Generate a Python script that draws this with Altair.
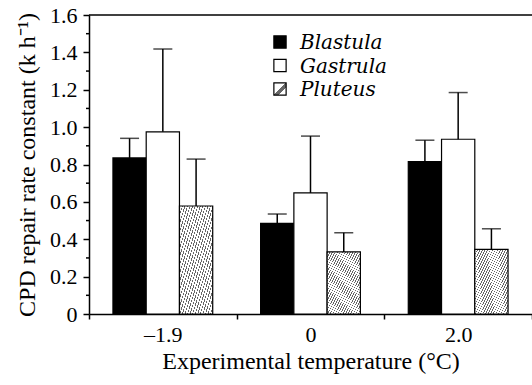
import altair as alt
import pandas as pd

temps = ["-1.9", "0", "2.0"]
temp_labels = ["\u20131.9", "0", "2.0"]
stages = ["Blastula", "Gastrula", "Pluteus"]
blastula = [0.835, 0.485, 0.815]
blastula_up = [0.94, 0.535, 0.93]
gastrula = [0.975, 0.648, 0.935]
gastrula_up = [1.418, 0.952, 1.185]
pluteus = [0.578, 0.332, 0.346]
pluteus_up = [0.829, 0.435, 0.456]
minor_ticks = [0.1, 0.3, 0.5, 0.7, 0.9, 1.1, 1.3, 1.5]

rows = []
for i, t in enumerate(temps):
    for s, v, u in zip(stages, [blastula, gastrula, pluteus], [blastula_up, gastrula_up, pluteus_up]):
        rows.append({"temp": temp_labels[i], "stage": s, "value": v[i], "upper": u[i]})
df = pd.DataFrame(rows)
leg_df = pd.DataFrame({"stage": stages, "row": list(range(len(stages)))})

# hatch fill as a striped linear gradient
N = 26
stops = []
for k in range(N):
    a = k / N
    b = (k + 0.3) / N
    c = (k + 1) / N
    stops += [f"{{offset:{a:.5f},color:'#666666'}}", f"{{offset:{b:.5f},color:'#666666'}}",
              f"{{offset:{b:.5f},color:'#ffffff'}}", f"{{offset:{c:.5f},color:'#ffffff'}}"]
hatch_expr = "{gradient:'linear',x1:0,y1:0,x2:1,y2:1,stops:[" + ",".join(stops) + "]}"

FONT = "Liberation Serif"
LEG_FONT = "DejaVu Serif"

fill_scale = alt.Scale(domain=stages, range=["black", "white", alt.ExprRef(hatch_expr)])

x = alt.X("temp:N", sort=temp_labels, title="Experimental temperature (\u00b0C)",
          scale=alt.Scale(paddingInner=0, paddingOuter=0),
          axis=alt.Axis(labelAngle=0, tickBand="extent", tickSize=5, labelPadding=5,
                        titlePadding=4, domainWidth=1.5, tickWidth=1.5))
xo = alt.XOffset("stage:N", sort=stages, scale=alt.Scale(paddingInner=0, paddingOuter=0.72))
yscale = alt.Scale(domain=[0, 1.6], nice=False)

bars = alt.Chart(df).mark_bar(stroke="black", strokeWidth=1.2).encode(
    x=x, xOffset=xo,
    y=alt.Y("value:Q", scale=yscale, title="CPD repair rate constant (k h\u207b\u00b9)",
            axis=alt.Axis(values=[0, 0.2, 0.4, 0.6, 0.8, 1.0, 1.2, 1.4, 1.6], tickSize=6,
                          labelExpr="datum.value == 0 ? '0' : format(datum.value, '.1f')",
                          labelPadding=6, titlePadding=10, domainWidth=1.5, tickWidth=1.5,
                          grid=False, labelOverlap=False)),
    fill=alt.Fill("stage:N", sort=stages, scale=fill_scale, legend=None),
)

err = alt.Chart(df).mark_rule(color="black", strokeWidth=1.5).encode(
    x=x, xOffset=xo, y=alt.Y("value:Q", scale=yscale, axis=None), y2="upper:Q")
cap = alt.Chart(df).mark_tick(color="black", orient="horizontal", size=19, thickness=1.5).encode(
    x=x, xOffset=xo, y=alt.Y("upper:Q", scale=yscale, axis=None))

minor = alt.Chart(pd.DataFrame({"v": minor_ticks})).mark_rule(color="black", strokeWidth=1.5).encode(
    y=alt.Y("v:Q", scale=yscale, axis=None), x=alt.value(-3), x2=alt.value(0))
top = alt.Chart(pd.DataFrame({"v": [1.6]})).mark_rule(color="black", strokeWidth=1.5).encode(
    y=alt.Y("v:Q", scale=yscale, axis=None))

leg_y = alt.Y("row:Q", scale=alt.Scale(domain=[0, 2], range=[27, 74]), axis=None)
leg_sym = alt.Chart(leg_df).mark_square(size=150, stroke="black", strokeWidth=1.2, opacity=1).encode(
    x=alt.value(191), y=leg_y,
    fill=alt.Fill("stage:N", sort=stages, scale=fill_scale, legend=None))
leg_txt = alt.Chart(leg_df).mark_text(align="left", baseline="middle", font=LEG_FONT, fontStyle="italic",
                                      fontSize=20, color="black", dy=1).encode(
    x=alt.value(211), y=leg_y, text="stage:N")

chart = alt.layer(bars, err, cap, minor, top, leg_sym, leg_txt).resolve_scale(
    y="independent").resolve_axis(y="independent").properties(
    width=443, height=299,
    background="white",
    autosize=alt.AutoSizeParams(type="none"),
    padding={"left": 89, "top": 15, "right": 0, "bottom": 71},
).configure_view(stroke=None).configure_axis(
    labelFont=FONT, titleFont=FONT, labelFontSize=22, titleFontSize=24,
    labelColor="black", titleColor="black", domainColor="black", tickColor="black",
    titleFontWeight="normal",
)

chart.save("out.html", embed_options={"renderer": "svg", "actions": False})
